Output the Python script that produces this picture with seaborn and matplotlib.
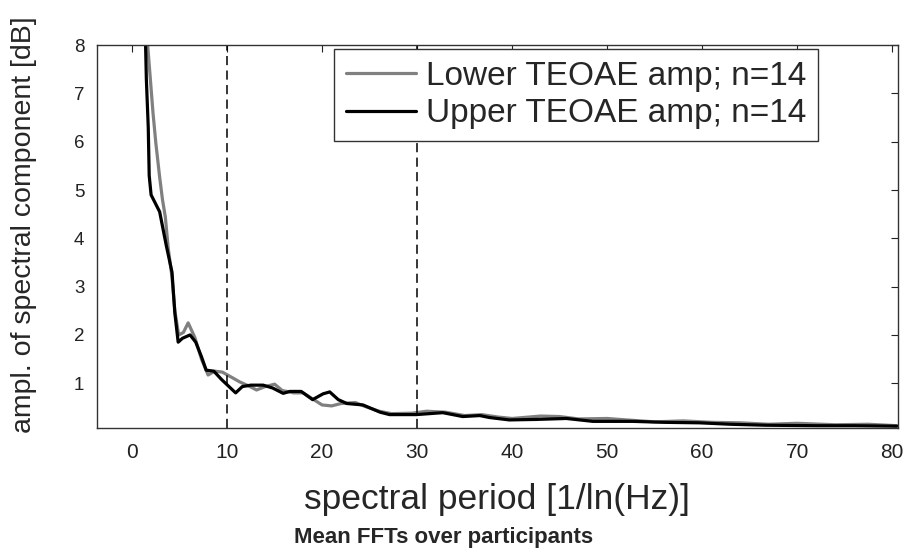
import numpy as np
import pandas as pd
import matplotlib
matplotlib.use("Agg")
import matplotlib.pyplot as plt
import seaborn as sns

sns.set_style("white")
plt.rcParams['font.family'] = ['Liberation Sans', 'DejaVu Sans']

# Data
lower_x = [1.4, 1.8, 2.2, 2.5, 2.9, 3.2, 3.5, 3.8, 4.2, 4.5, 4.9, 5.4, 5.9, 6.6, 7.3,
           8.0, 8.7, 9.5, 10.5, 11.3, 12.2, 13.1, 14.0, 15.0, 15.8, 17.0, 18.0, 19.2,
           20.0, 21.0, 22.0, 23.5, 24.5, 26.0, 27.3, 29.5, 31.0, 33.0, 35.0, 36.8,
           38.5, 40.0, 43.0, 45.0, 47.0, 50.0, 52.0, 55.0, 58.0, 61.0, 64.0, 67.0,
           70.0, 74.0, 77.5, 80.5]
lower_y = [8.6, 7.6, 6.6, 5.97, 5.27, 4.8, 4.44, 3.8, 3.2, 2.5, 2.0, 2.05, 2.25, 1.95, 1.5,
           1.17, 1.25, 1.23, 1.12, 1.03, 0.95, 0.86, 0.93, 0.98, 0.85, 0.8, 0.8, 0.65,
           0.55, 0.53, 0.58, 0.6, 0.52, 0.42, 0.37, 0.38, 0.42, 0.40, 0.33, 0.35,
           0.30, 0.27, 0.32, 0.31, 0.26, 0.27, 0.24, 0.20, 0.22, 0.19, 0.18, 0.15,
           0.17, 0.14, 0.15, 0.12]

upper_x = [1.35, 1.5, 1.7, 1.8, 2.0, 2.9, 3.6, 4.2, 4.5, 4.85, 5.3, 6.1, 6.7, 7.3, 7.8,
           8.6, 9.4, 10.2, 10.9, 11.6, 12.5, 13.8, 14.8, 15.9, 16.6, 17.8, 19.0, 20.1,
           20.8, 21.7, 22.6, 24.3, 26.1, 27.1, 29.9, 32.7, 34.8, 36.6, 37.6, 39.7,
           42.5, 45.7, 48.5, 52.7, 56.0, 59.7, 63.0, 66.7, 72.0, 76.0, 80.5]
upper_y = [8.6, 7.3, 6.3, 5.3, 4.9, 4.55, 3.85, 3.3, 2.45, 1.85, 1.93, 2.0, 1.85, 1.55, 1.27,
           1.25, 1.08, 0.93, 0.80, 0.93, 0.96, 0.96, 0.90, 0.79, 0.83, 0.83, 0.66, 0.78,
           0.82, 0.66, 0.58, 0.55, 0.40, 0.35, 0.35, 0.39, 0.31, 0.33, 0.29, 0.24,
           0.25, 0.27, 0.21, 0.21, 0.19, 0.18, 0.15, 0.13, 0.12, 0.12, 0.11]

vlines = [10, 30]
labels = ["Lower TEOAE amp; n=14", "Upper TEOAE amp; n=14"]
colors = ["#808080", "#000000"]

fig = plt.figure(figsize=(9.06, 5.51), dpi=100)
ax = fig.add_axes([0.107, 0.223, 0.884, 0.695])

sns.lineplot(x=lower_x, y=lower_y, ax=ax, color=colors[0], linewidth=2.3,
             label=labels[0], sort=False)
sns.lineplot(x=upper_x, y=upper_y, ax=ax, color=colors[1], linewidth=2.3,
             label=labels[1], sort=False)
for v in vlines:
    ax.axvline(v, color='black', linestyle=(0, (6, 3.5)), linewidth=1.1)

ax.set_xlim(-3.7, 80.6)
ax.set_ylim(0.07, 8)
ax.set_xticks(range(0, 81, 10))
ax.set_yticks(range(1, 9))
ax.tick_params(direction='in', length=5, width=0.8, top=True, right=True,
               colors='#222222')
ax.tick_params(axis='x', labelsize=15, pad=11)
ax.tick_params(axis='y', labelsize=13.5, pad=9)
for s in ax.spines.values():
    s.set_visible(True)
    s.set_color('#333333')
    s.set_linewidth(1.0)

ax.set_xlabel("spectral period [1/ln(Hz)]", fontsize=25.5, labelpad=15)
ax.set_ylabel("ampl. of spectral component [dB]", fontsize=20.5)
ax.yaxis.set_label_coords(-0.075, 0.53)

leg = ax.legend(loc='upper right', bbox_to_anchor=(0.9, 0.99), fontsize=24,
                frameon=True, fancybox=False, framealpha=1, edgecolor='#333333',
                handlelength=2.1, handletextpad=0.3, borderpad=0.35,
                labelspacing=0.2, borderaxespad=0.0)
leg.get_frame().set_linewidth(1.0)

fig.text(0.49, 0.025, "Mean FFTs over participants", ha='center', va='center',
         fontsize=16, fontweight='bold')

fig.savefig("out.png", dpi=100)
